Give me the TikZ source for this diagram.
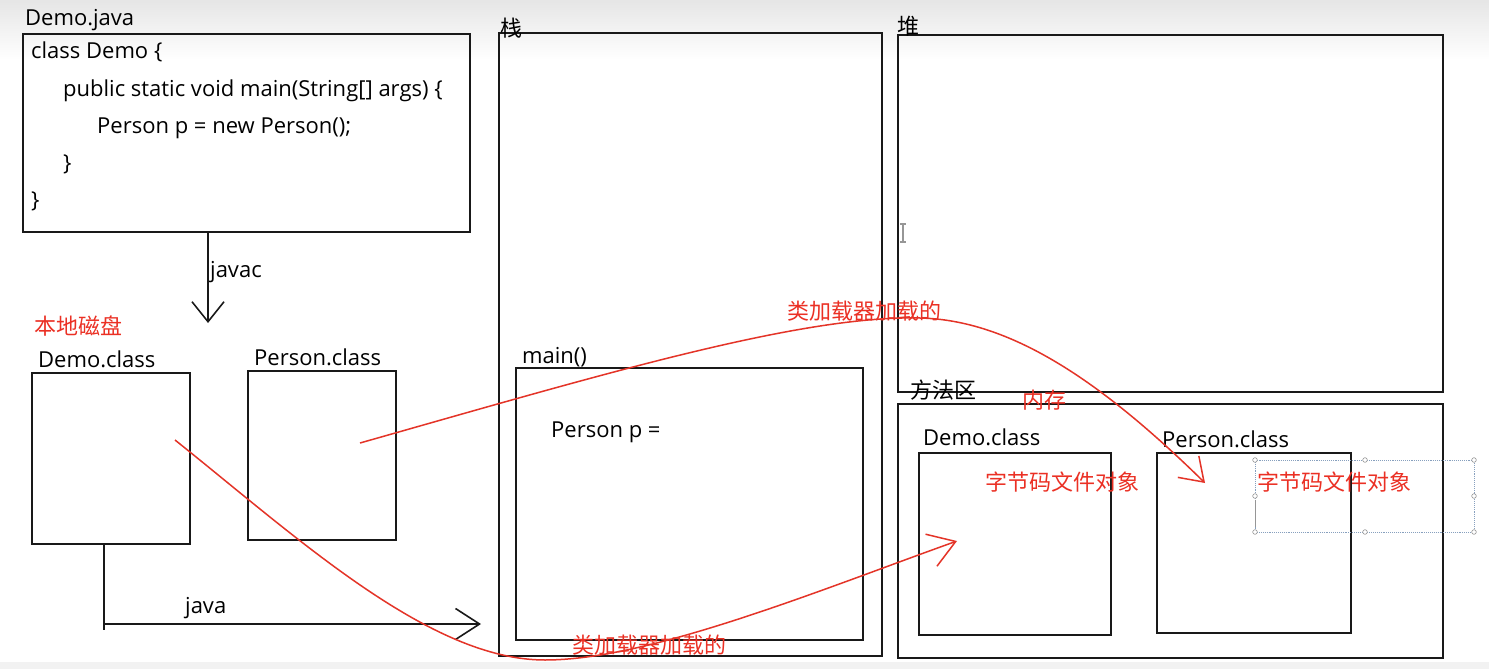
\documentclass[tikz,border=0pt]{standalone}
\usepackage{fontspec}
\setmainfont{Open Sans}
\newfontfamily\cjk{Noto Sans CJK SC}
\usetikzlibrary{arrows.meta}
\definecolor{redline}{RGB}{228,52,40}
\definecolor{redtext}{RGB}{235,48,36}
\definecolor{boxline}{RGB}{25,25,25}
\definecolor{selblue}{RGB}{135,160,190}
\definecolor{cursorgray}{RGB}{150,150,150}
\tikzset{
  blackbox/.style={draw=boxline,line width=1.6pt,anchor=north west,inner sep=0pt,outer sep=0pt},
  lbl/.style={anchor=base west,inner sep=0pt,font=\fontsize{22}{26}\selectfont,text=black},
  cjklbl/.style={anchor=west,inner sep=0pt,font=\cjk\fontsize{22}{26}\selectfont,text=black},
  redlbl/.style={anchor=west,inner sep=0pt,font=\cjk\fontsize{22}{26}\selectfont,text=redtext},
  blackarrow/.style={draw=boxline,line width=1.6pt},
  redcurve/.style={draw=redline,line width=1.5pt},
  handle/.style={draw=cursorgray,fill=white,line width=0.6pt}
}
\begin{document}
\begin{tikzpicture}[x=1pt,y=-1pt]
\useasboundingbox (0,0) rectangle (1489,669);
\fill[white] (0,0) rectangle (1489,669);
\shade[top color=black!10, bottom color=white] (0,0) rectangle (1489,60);
\fill[black!5] (0,662) rectangle (1489,669);

% ---- boxes ----
\node[blackbox,minimum width=447pt,minimum height=198pt] (codebox) at (23,34) {};
\node[blackbox,minimum width=158pt,minimum height=171pt] (diskdemo) at (32,373) {};
\node[blackbox,minimum width=148pt,minimum height=169pt] (diskperson) at (248,371) {};
\node[blackbox,minimum width=383pt,minimum height=623pt] (stack) at (499,33) {};
\node[blackbox,minimum width=347pt,minimum height=272pt] (mainframe) at (516,368) {};
\node[blackbox,minimum width=545pt,minimum height=357pt] (heap) at (898,35) {};
\node[blackbox,minimum width=545pt,minimum height=254pt] (method) at (898,404) {};
\node[blackbox,minimum width=192pt,minimum height=182pt] (memdemo) at (919,453) {};
\node[blackbox,minimum width=194pt,minimum height=180pt] (memperson) at (1157,453) {};

% ---- labels ----
\node[lbl] (demojava) at (25,26) {Demo.java};
\node[lbl] (code1) at (31,59) {class Demo \{};
\node[lbl] (code2) at (63,96) {public static void main(String[] args) \{};
\node[lbl] (code3) at (97,133) {Person p = new Person();};
\node[lbl] (code4) at (63,170) {\}};
\node[lbl] (code5) at (31,207) {\}};
\node[lbl] (javac) at (210,277) {javac};
\node[redlbl] (localdisk) at (34,326) {本地磁盘};
\node[lbl] (diskdemolbl) at (38,367) {Demo.class};
\node[lbl] (diskpersonlbl) at (254,365) {Person.class};
\node[lbl] (javalbl) at (185,613) {java};
\node[cjklbl] (stacklbl) at (500,28) {栈};
\node[lbl] (mainlbl) at (522,363) {main()};
\node[lbl] (personp) at (551,437) {Person p =};
\node[cjklbl] (heaplbl) at (897,26) {堆};
\node[cjklbl] (methodlbl) at (910,390) {方法区};
\node[redlbl] (memlbl) at (1022,400) {内存};
\node[lbl] (memdemolbl) at (923,445) {Demo.class};
\node[lbl] (mempersonlbl) at (1162,447) {Person.class};
\node[redlbl] (bytecode1) at (985,482) {字节码文件对象};
\node[redlbl] (bytecode2) at (1257,482) {字节码文件对象};
\node[redlbl] (loadtop) at (787,311) {类加载器加载的};
\node[redlbl] (loadbottom) at (572,645) {类加载器加载的};

% ---- black arrows ----
\coordinate (javacend) at (208,323);
\draw[blackarrow,-{Straight Barb[length=20pt,width=32pt]}] (javacend |- codebox.south) -- (javacend);
\coordinate (javacorner) at (104,624);
\coordinate (javaend) at (481,624);
\draw[blackarrow] (javacorner |- diskdemo.south) -- ++(0,86);
\draw[blackarrow,-{Straight Barb[length=24pt,width=31pt]}] (javacorner) -- (javaend);

% ---- red curves ----
\coordinate (rA0) at (175,440);
\coordinate (rA1) at (545,660);
\coordinate (rA2) at (957,541);
\draw[redcurve,-{Straight Barb[length=26pt,width=34pt]}] (rA0) .. controls (300,540) and (430,660) .. (rA1)
   .. controls (650,660) and (820,590) .. (rA2);
\coordinate (rB0) at (360,443);
\coordinate (rB1) at (920,318);
\coordinate (rB2) at (1205,483);
\draw[redcurve,-{Straight Barb[length=22pt,width=30pt]}] (rB0) .. controls (600,375) and (800,315) .. (rB1)
   .. controls (1010,320) and (1100,380) .. (rB2);

% ---- selection box and cursors ----
\draw[selblue,densely dotted,line width=0.9pt] (1255,460) rectangle (1474,532);
\draw[cursorgray,line width=1pt] (1255,500) -- (1255,527);
\foreach \px/\py in {1255/460,1365/460,1474/460,1255/496,1474/496,1255/532,1365/532,1474/532}
  \draw[handle] (\px,\py) circle (2.3pt);
\draw[cursorgray,line width=1.2pt] (903,224) -- (903,242) (900,224) -- (906,224) (900,242) -- (906,242);
\end{tikzpicture}
\end{document}
